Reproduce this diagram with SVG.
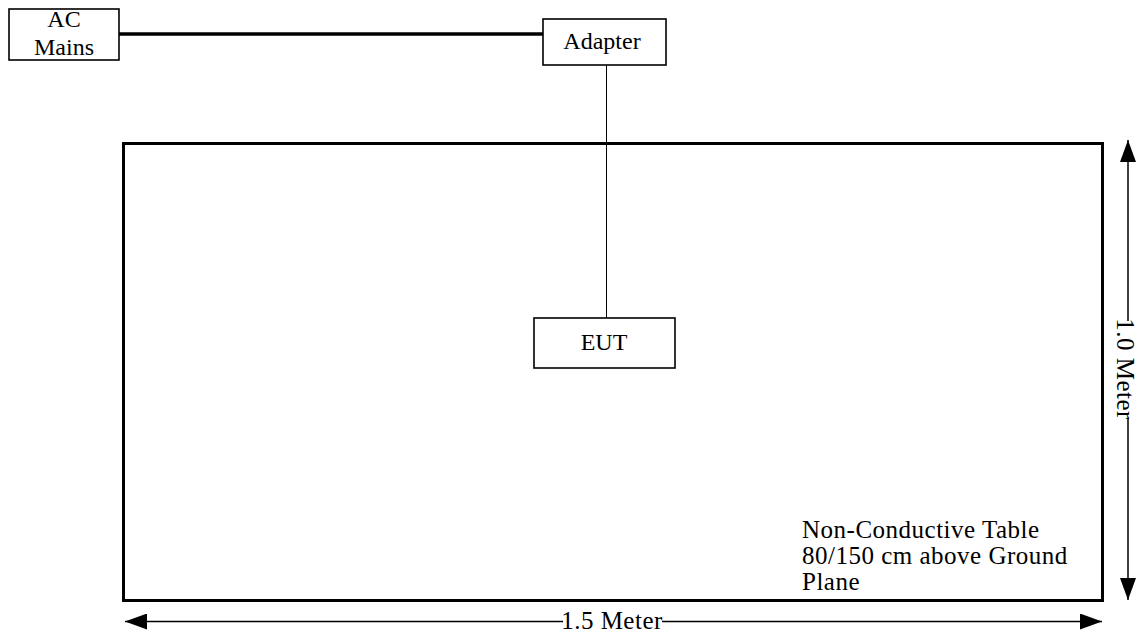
<svg xmlns="http://www.w3.org/2000/svg" width="1141" height="633" viewBox="0 0 1141 633">
<style>
.box{fill:#fff;stroke:#000;stroke-width:1.6}
.t{font-family:"Liberation Serif","Times New Roman",serif;font-size:24px;fill:#000}
.big{font-size:25px;letter-spacing:0.5px}
.dim{stroke:#000;stroke-width:1.5;fill:none}
</style>
<defs>
<marker id="ah" viewBox="0 0 22 16" refX="22" refY="8" markerWidth="22" markerHeight="16" markerUnits="userSpaceOnUse" orient="auto">
<path d="M0,0 L22,8 L0,16 Z" fill="#000"/>
</marker>
</defs>
<rect width="1141" height="633" fill="#fff"/>
<g id="table">
<rect x="123.5" y="143.5" width="979" height="457" fill="none" stroke="#000" stroke-width="3"/>
<text class="t big" x="802" y="538">Non-Conductive Table</text>
<text class="t big" x="802" y="564">80/150 cm above Ground</text>
<text class="t big" x="802" y="590">Plane</text>
</g>
<g id="connectors">
<line x1="119" y1="34" x2="543" y2="34" stroke="#000" stroke-width="3.5"/>
<line x1="606.5" y1="64" x2="606.5" y2="318" stroke="#000" stroke-width="1"/>
</g>
<g id="ac-mains">
<rect class="box" x="9" y="9" width="110" height="51"/>
<text class="t" x="64" y="27" text-anchor="middle" font-size="25">AC</text>
<text class="t" x="64" y="55" text-anchor="middle" font-size="25">Mains</text>
</g>
<g id="adapter">
<rect class="box" x="543" y="19" width="123" height="46"/>
<text class="t" x="602" y="49" text-anchor="middle">Adapter</text>
</g>
<g id="eut">
<rect class="box" x="534" y="318" width="141" height="50"/>
<text class="t" x="604" y="350" text-anchor="middle">EUT</text>
</g>
<g id="dim-width">
<line class="dim" x1="563" y1="621.5" x2="125" y2="621.5" marker-end="url(#ah)"/>
<line class="dim" x1="662" y1="621.5" x2="1102" y2="621.5" marker-end="url(#ah)"/>
<text class="t big" x="612" y="629" text-anchor="middle">1.5 Meter</text>
</g>
<g id="dim-height">
<line class="dim" x1="1128" y1="321" x2="1128" y2="140" marker-end="url(#ah)"/>
<line class="dim" x1="1128" y1="418" x2="1128" y2="600" marker-end="url(#ah)"/>
<text class="t big" transform="translate(1117,369) rotate(90)" text-anchor="middle">1.0 Meter</text>
</g>
</svg>
